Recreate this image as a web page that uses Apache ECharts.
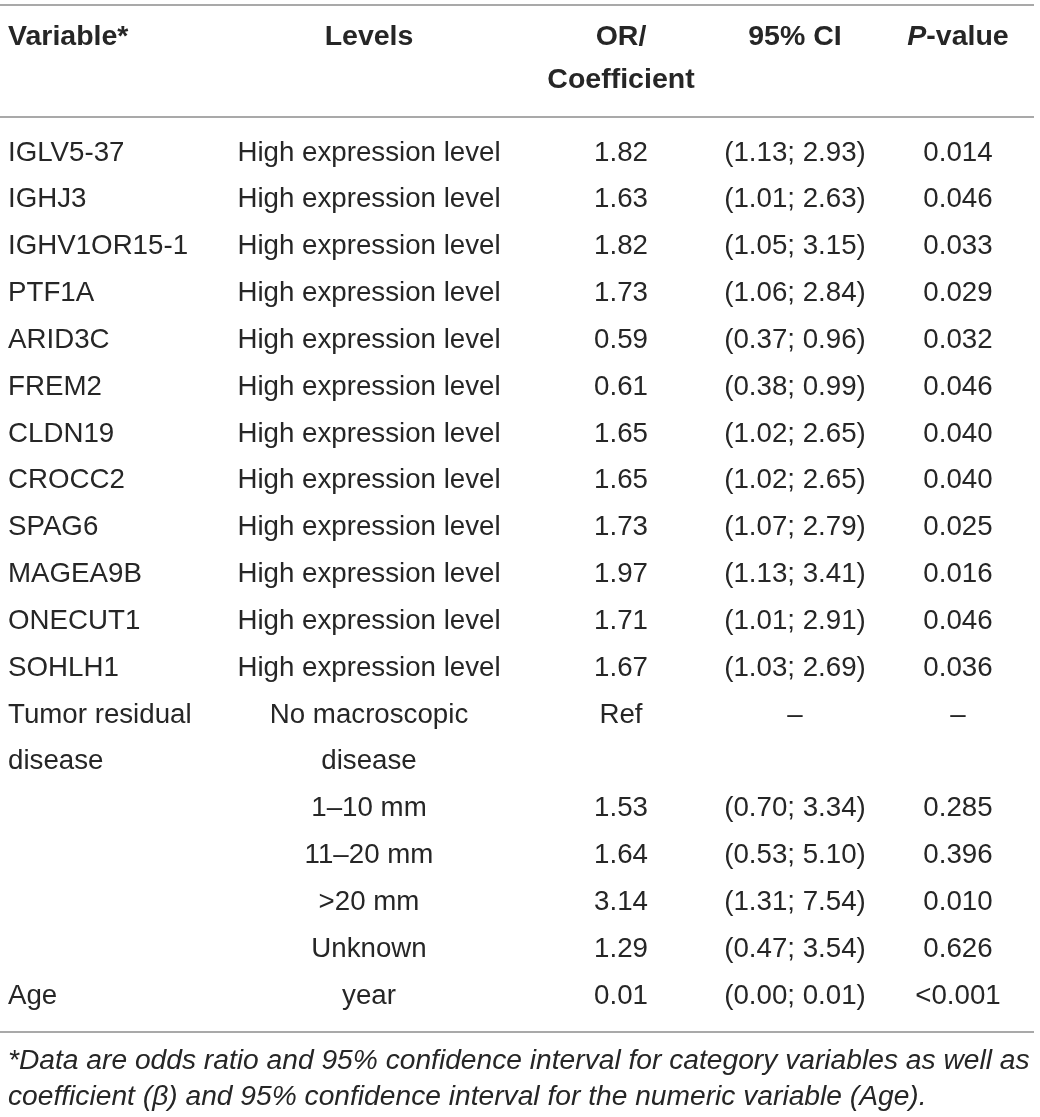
<!DOCTYPE html>
<html>
<head>
<meta charset="utf-8">
<title>Table</title>
<script src="https://cdn.jsdelivr.net/npm/echarts@6/dist/echarts.min.js"></script>
<style>
    html, body { margin: 0; padding: 0; background: #fff; }
    #main { width: 1040px; height: 1117px; }
</style>
</head>
<body>
<div id="main"></div>
<script>
// table content, one array per column, one entry per text line
const headerTop = ['Variable*', 'Levels', 'OR/', '95% CI', '{i|P}-value'];
const headerBottom = ['', '', 'Coefficient', '', ''];

const variableCol = ['IGLV5-37', 'IGHJ3', 'IGHV1OR15-1', 'PTF1A', 'ARID3C', 'FREM2', 'CLDN19', 'CROCC2',
    'SPAG6', 'MAGEA9B', 'ONECUT1', 'SOHLH1', 'Tumor residual', 'disease', '', '', '', '', 'Age'];
const levelCol = ['High expression level', 'High expression level', 'High expression level', 'High expression level',
    'High expression level', 'High expression level', 'High expression level', 'High expression level',
    'High expression level', 'High expression level', 'High expression level', 'High expression level',
    'No macroscopic', 'disease', '1–10 mm', '11–20 mm', '>20 mm', 'Unknown', 'year'];
const orCol = ['1.82', '1.63', '1.82', '1.73', '0.59', '0.61', '1.65', '1.65', '1.73', '1.97', '1.71', '1.67',
    'Ref', '', '1.53', '1.64', '3.14', '1.29', '0.01'];
const ciCol = ['(1.13; 2.93)', '(1.01; 2.63)', '(1.05; 3.15)', '(1.06; 2.84)', '(0.37; 0.96)', '(0.38; 0.99)',
    '(1.02; 2.65)', '(1.02; 2.65)', '(1.07; 2.79)', '(1.13; 3.41)', '(1.01; 2.91)', '(1.03; 2.69)',
    '–', '', '(0.70; 3.34)', '(0.53; 5.10)', '(1.31; 7.54)', '(0.47; 3.54)', '(0.00; 0.01)'];
const pCol = ['0.014', '0.046', '0.033', '0.029', '0.032', '0.046', '0.040', '0.040', '0.025', '0.016', '0.046', '0.036',
    '–', '', '0.285', '0.396', '0.010', '0.626', '<0.001'];
const footnote = '*Data are odds ratio and 95% confidence interval for category variables as well as\n' +
    'coefficient (β) and 95% confidence interval for the numeric variable (Age).';

// layout
const COL_X = [8, 369, 621, 795, 958];
const COL_ALIGN = ['left', 'center', 'center', 'center', 'center'];
const FONT = '"Liberation Sans", Arial, sans-serif';
const INK = '#262626';
const RULE = '#8c8c8c';

const bodyCols = [variableCol, levelCol, orCol, ciCol, pCol];
const lineCount = variableCol.length;

function buildCells(cols) {
    const cells = [];
    cols.forEach(function (col, c) {
        col.forEach(function (text, r) {
            if (text !== '') {
                cells.push({ value: [COL_X[c], r], text: text, align: COL_ALIGN[c] });
            }
        });
    });
    return cells;
}

const headerCells = buildCells(headerTop.map(function (t, i) { return [t, headerBottom[i]]; }));
const bodyCells = buildCells(bodyCols);

function textRenderer(cells, bold, size) {
    return function (params, api) {
        const cell = cells[params.dataIndex];
        const p = api.coord([api.value(0), api.value(1)]);
        return {
            type: 'text',
            x: p[0],
            y: p[1],
            style: {
                text: cell.text,
                align: cell.align,
                verticalAlign: 'middle',
                fontFamily: FONT,
                fontSize: size,
                fontWeight: bold ? 'bold' : 'normal',
                fill: INK,
                rich: {
                    i: { fontFamily: FONT, fontSize: size, fontWeight: 'bold', fontStyle: 'italic', fill: INK }
                }
            }
        };
    };
}

const chart = echarts.init(document.getElementById('main'));
const hiddenAxis = { show: false };

chart.setOption({
    animation: false,
    grid: [
        { left: 0, right: 0, top: 15.5, height: 86 },
        { left: 0, right: 0, top: 129.6, height: 46.83 * lineCount }
    ],
    xAxis: [
        Object.assign({ type: 'value', min: 0, max: 1040, gridIndex: 0 }, hiddenAxis),
        Object.assign({ type: 'value', min: 0, max: 1040, gridIndex: 1 }, hiddenAxis)
    ],
    yAxis: [
        Object.assign({ type: 'category', data: ['top', 'bottom'], inverse: true, gridIndex: 0 }, hiddenAxis),
        Object.assign({ type: 'category', data: variableCol.map(function (v, i) { return 'line' + i; }),
            inverse: true, gridIndex: 1 }, hiddenAxis)
    ],
    graphic: [
        { type: 'line', shape: { x1: 0, y1: 5, x2: 1034, y2: 5 }, style: { stroke: RULE, lineWidth: 1.5 } },
        { type: 'line', shape: { x1: 0, y1: 117, x2: 1034, y2: 117 }, style: { stroke: RULE, lineWidth: 1.5 } },
        { type: 'line', shape: { x1: 0, y1: 1032, x2: 1034, y2: 1032 }, style: { stroke: RULE, lineWidth: 1.5 } },
        {
            type: 'text', x: 8, y: 1043,
            style: {
                text: footnote, fontFamily: FONT, fontSize: 28.2, fontStyle: 'italic',
                lineHeight: 36, verticalAlign: 'top', fill: INK
            }
        }
    ],
    series: [
        {
            type: 'custom', xAxisIndex: 0, yAxisIndex: 0,
            data: headerCells, renderItem: textRenderer(headerCells, true, 28.5)
        },
        {
            type: 'custom', xAxisIndex: 1, yAxisIndex: 1,
            data: bodyCells, renderItem: textRenderer(bodyCells, false, 27.7)
        }
    ]
});

window.onresize = function () {
    chart.resize();
};
</script>
</body>
</html>
